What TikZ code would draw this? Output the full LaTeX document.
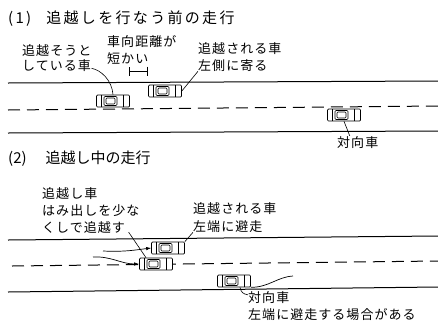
\documentclass[tikz,border=0pt]{standalone}
\usepackage{fontspec}
\setmainfont{Noto Sans CJK JP}
\usetikzlibrary{arrows.meta}

\newcommand{\lblfont}{\fontsize{13}{17}\selectfont\addfontfeature{LetterSpace=8}}
\newcommand{\ttlfont}{\fontsize{15}{18}\selectfont}

\tikzset{
  road/.style={line width=1pt},
  lane/.style={line width=1pt, dash pattern=on 12pt off 7pt},
  car/.style={draw, fill=white, line width=0.7pt, rounded corners=1pt,
    minimum width=33pt, minimum height=12pt, inner sep=0pt,
    path picture={
      \begin{scope}[shift={(path picture bounding box.center)}, x=1pt, y=1pt, line width=0.6pt]
        \draw (-12,-6) -- (-12,6) (10,-6) -- (10,6);
        \draw (-9,-4.5) rectangle (4,4.5);
        \draw (-7,-3) rectangle (2,3);
      \end{scope}}},
  lbl/.style={anchor=base west, inner sep=0pt, align=left, font=\lblfont},
  leader/.style={line width=0.6pt},
  gap/.style={line width=0.7pt, {Bar[width=9pt]}-{Bar[width=9pt]}},
  track/.style={line width=0.7pt, -{Latex[length=5pt,width=3.5pt]}},
  trail/.style={line width=0.7pt},
}

\begin{document}
\begin{tikzpicture}[x=1pt, y=-1pt]
  \useasboundingbox (0,0) rectangle (438,327);

  %% (1) before overtaking
  \node[lbl, font=\ttlfont\addfontfeature{LetterSpace=15.5}] (t1) at (8,23) {(1)\hspace{15pt}追越しを行なう前の走行};
  \draw[road] (8,83) -- (438,81);
  \draw[lane] (8,110) -- (438,106);
  \draw[road] (8,133) -- (438,131);
  \node[car] (c1) at (113,101) {};
  \node[car] (c2) at (165,91) {};
  \node[car] (c3) at (344,115) {};
  %% multi-line labels sit on their last baseline
  \node[lbl] (l1) at (22,70) {追越そうと\\[-2pt]している車};
  \node[lbl] (l2) at (107,63) {車向距離が\\短かい};
  \node[lbl] (l3) at (198,70) {追越される車\\左側に寄る};
  \node[lbl] (l4) at (337,147) {対向車};
  \draw[gap] (129,71) -- (148,71);
  \draw[leader] ([yshift=3pt]l1.south east) .. controls +(10,2) and +(-1,-14) .. (c1.north);
  \draw[leader] (l3.south west) -- (c2.east);
  \draw[leader] (c3.south) -- ([xshift=-8pt]l4.north);

  %% (2) while overtaking
  \node[lbl, font=\ttlfont] (t2) at (8,163) {(2)\hspace{19pt}追越し中の走行};
  \draw[road] (8,240) -- (438,236);
  \draw[lane] (12,266) -- (438,261);
  \draw[road] (8,292) -- (438,287);
  \node[car] (c4) at (168,248) {};
  \node[car] (c5) at (156,264) {};
  \node[car] (c6) at (234,281) {};
  \node[lbl] (l5) at (42,232) {追越し車\\はみ出しを少な\\くしで追越す};
  \node[lbl] (l6) at (193,231) {追越される車\\[1pt]左端に避走};
  \node[lbl] (l7) at (248,319) {対向車\\左端に避走する場合がある};
  \coordinate (s1) at (103,251);
  \coordinate (s2) at (93,257);
  \coordinate (s3) at (293,276);
  \draw[track] (s1) .. controls +(22,1) and +(-16,2) .. (c4.west);
  \draw[track] (s2) .. controls +(18,-1) and +(-18,0) .. (c5.west);
  \draw[trail] (c6.south east) .. controls +(18,0) and +(-16,1) .. (s3);
  \draw[leader] ([xshift=-11pt,yshift=1pt]l5.south east) -- ([xshift=-10pt]c5.north);
  \draw[leader] (l6.south west) -- (c4.north east);
  \draw[leader] ([xshift=6pt]c6.south) .. controls +(1,5) and +(-5,-1) .. ([yshift=-4pt]l7.north west);
\end{tikzpicture}
\end{document}
